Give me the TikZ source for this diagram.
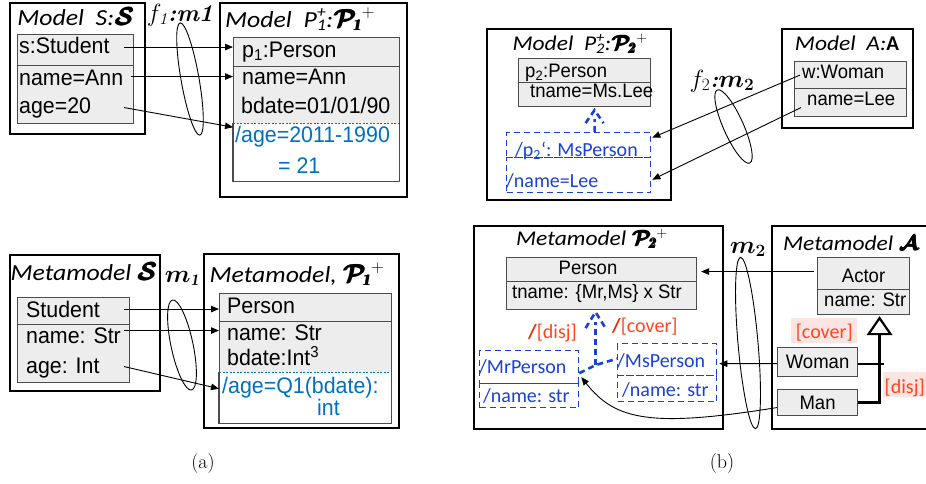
\documentclass[tikz,border=0pt]{standalone}
\usepackage{fontspec}
\usepackage{bm}
\usetikzlibrary{arrows.meta,calc,shapes.geometric}

\newfontfamily\arialf[FakeStretch=0.95]{Liberation Sans}
\newfontfamily\calibf{Carlito}
\newfontfamily\calibw[FakeStretch=1.12]{Carlito}

\newcommand\txtA{\arialf\fontsize{22.5}{26}\selectfont}
\newcommand\txtB{\arialf\fontsize{19.5}{23}\selectfont}
\newcommand\ttlA{\calibw\itshape\fontsize{23}{27}\selectfont}
\newcommand\ttlB{\calibw\itshape\fontsize{21}{25}\selectfont}
\newcommand\clbB{\calibf\fontsize{20}{24}\selectfont}
\newcommand\lblA{\fontsize{24}{28}\selectfont}
\newcommand\lblM{\fontsize{23}{27}\selectfont}
\newcommand\lblB{\fontsize{23}{27}\selectfont}
\newcommand\capf{\fontsize{20}{24}\selectfont}
% heavy version of a symbol, overprinted with small offsets
\newcommand\hvy[1]{\mbox{\rlap{#1}\rlap{\kern0.6pt\raisebox{0.6pt}{#1}}\kern1.2pt#1}}

\definecolor{blueA}{RGB}{0,112,192}
\definecolor{blueB}{RGB}{25,65,215}
\definecolor{redT}{RGB}{255,70,30}
\definecolor{redS}{RGB}{235,40,0}
\definecolor{pinkbg}{RGB}{252,228,226}

\tikzset{
  outerbox/.style={draw=black, line width=2.2pt, anchor=north west, inner sep=0pt},
  cmp/.style={draw=black!70, line width=1.1pt, fill=black!7, anchor=north west, inner sep=0pt},
  cmpw/.style={fill=white, anchor=north west, inner sep=0pt},
  cmpline/.style={draw=black!70, line width=1.1pt},
  sepdash/.style={draw=blueA, line width=0.8pt, dash pattern=on 2pt off 1.5pt},
  dbx/.style={draw=blueB, line width=1.3pt, dash pattern=on 6pt off 4pt, anchor=north west, inner sep=0pt},
  tl/.style={anchor=base west, inner sep=0pt},
  tc/.style={anchor=base, inner sep=0pt},
  map/.style={draw=black, line width=0.9pt, -{Triangle[length=8pt,width=6.5pt]}},
  ring/.style={draw=black, line width=0.9pt, ellipse, inner sep=0pt},
  gend/.style={draw=blueB, line width=2.6pt, dash pattern=on 6pt off 4pt},
  hl/.style={fill=pinkbg, text=redT, anchor=north west, inner sep=0pt, font=\clbB},
  cls/.style={cmp, font=\txtB}
}

\begin{document}
\begin{tikzpicture}[x=1pt,y=-1pt]
\useasboundingbox (0,0) rectangle (926,483);

% ===================== (a) object level =====================
\node[outerbox, minimum width=135, minimum height=131] (oS) at (9,2) {};
\node[tc, font=\ttlA] (tiS) at (76,25) {Model\ \ S:\hvy{$\bm{\mathcal{S}}$}};
\node[cmp, minimum width=116, minimum height=31] (sS1) at (17,34) {};
\node[cmp, minimum width=116, minimum height=58] (sS2) at (17,65) {};
\node[tl, font=\txtA] (tS1) at (19,53) {s:Student};
\node[tl, font=\txtA] (tS2) at (19,85) {name=Ann};
\node[tl, font=\txtA] (tS3) at (19,113) {age=20};

\node[tc, font=\lblA] (lf1) at (180,21) {$f_{\mathit{1}}$\textbf{\textit{:m1}}};
\node[ring, minimum width=18, minimum height=114, rotate=10] (r1) at (190,79) {};

\node[outerbox, minimum width=187, minimum height=194] (oP1) at (219,2) {};
\node[tc, font=\ttlA] (tiP1) at (300,27) {Model\ \ P\rlap{\textsubscript{1}}\textsuperscript{+}:\hvy{$\bm{\mathcal{P}_{\!\mathit{1}}}$}$^{+}$};
\node[cmp, minimum width=166, minimum height=29] (pP1) at (233,37) {};
\node[cmp, minimum width=166, minimum height=57] (pP2) at (233,66) {};
\node[cmpw, minimum width=166, minimum height=58] (pP3) at (233,123) {};
\draw[cmpline] (pP3.north west) |- (pP3.south east) -- (pP3.north east);
\draw[sepdash] (pP3.north west) -- (pP3.north east);
\node[tl, font=\txtA] (tP1) at (242,57) {p\textsubscript{1}:Person};
\node[tl, font=\txtA] (tP2) at (242,84) {name=Ann};
\node[tl, font=\txtA] (tP3) at (241,113) {bdate=01/01/90};
\node[tl, font=\txtA, text=blueA] (tP4) at (235,142) {/age=2011-1990};
\node[tl, font=\txtA, text=blueA] (tP5) at (278,173) {= 21};

\draw[map] ($(sS1.east)+(-10,-3)$) -- ($(pP1.west)+(0,-5)$);
\draw[map] ($(sS2.east)+(-3,-18)$) -- ($(pP2.west)+(0,-18.5)$);
\draw[map] ($(sS2.east)+(-10,13)$) -- ($(pP3.west)+(0,-25)$);

% ===================== (a) metamodel level =====================
\node[outerbox, minimum width=150, minimum height=136] (oMS) at (9,254) {};
\node[tc, font=\ttlA] (tiMS) at (84,280) {Metamodel\ \hvy{$\bm{\mathcal{S}}$}};
\node[cmp, minimum width=112, minimum height=27] (mS1) at (17,297) {};
\node[cmp, minimum width=112, minimum height=58] (mS2) at (17,324) {};
\node[tl, font=\txtA] (tmS1) at (26,317) {Student};
\node[tl, font=\txtA] (tmS2) at (26,343) {name: Str};
\node[tl, font=\txtA] (tmS3) at (26,373) {age: Int};

\node[tc, font=\lblM] (lm1) at (182,282) {$\bm{m_{\mathit{1}}}$};
\node[ring, minimum width=22, minimum height=92, rotate=12] (r2) at (182,345) {};

\node[outerbox, minimum width=195, minimum height=174] (oMP1) at (203,253) {};
\node[tc, font=\ttlA] (tiMP1) at (297,282) {Metamodel, \hvy{$\bm{\mathcal{P}_{\!\mathit{1}}}$}$^{+}$};
\node[cmp, minimum width=172, minimum height=28] (mP1) at (219,293) {};
\node[cmp, minimum width=172, minimum height=51] (mP2) at (219,321) {};
\node[cmpw, minimum width=172, minimum height=51] (mP3) at (219,372) {};
\draw[cmpline] (mP3.north west) |- (mP3.south east) -- (mP3.north east);
\draw[sepdash] (mP3.north west) -- (mP3.north east);
\node[tl, font=\txtA] (tmP1) at (227,313) {Person};
\node[tl, font=\txtA] (tmP2) at (227,340) {name: Str};
\node[tl, font=\txtA] (tmP3) at (227,365) {bdate:Int\textsuperscript{3}};
\node[tl, font=\txtA, text=blueA] (tmP4) at (222,393) {/age=Q1(bdate):};
\node[tl, font=\txtA, text=blueA] (tmP5) at (317,415) {int};

\draw[map] ($(mS1.east)+(-6,-2)$) -- ($(mP1.west)+(0,1.5)$);
\draw[map] ($(mS2.east)+(-6,-23)$) -- ($(mP2.west)+(0,-16.5)$);
\draw[map] ($(mS2.east)+(-6,13)$) -- ($(mP3.west)+(0,-9)$);

% ===================== (b) object level =====================
\node[outerbox, minimum width=184, minimum height=171] (oP2) at (486,28) {};
\node[tc, font=\ttlB] (tiP2) at (580,50) {Model\ \ P\rlap{\textsubscript{2}}\textsuperscript{+}:\hvy{$\bm{\mathcal{P}_{\!\mathit{2}}}$}$^{+}$};
\node[cmp, minimum width=132, minimum height=24] (p2a) at (518,58) {};
\node[cmp, minimum width=132, minimum height=24] (p2b) at (518,82) {};
\node[tl, font=\txtB] (tp2a) at (525,77) {p\textsubscript{2}:Person};
\node[tl, font=\txtB] (tp2b) at (530,97) {tname=Ms.Lee};
\node[dbx, minimum width=144, minimum height=25] (db1) at (506,132) {};
\node[dbx, minimum width=144, minimum height=35] (db2) at (506,157) {};
\node[tl, font=\clbB, text=blueB] (tdb1) at (515,156) {/p\textsubscript{2}‘: MsPerson};
\node[tl, font=\clbB, text=blueB] (tdb2) at (506,187) {/name=Lee};

\coordinate (gt1) at ($(p2b.south)+(10,3)$);
\draw[gend] ($(db1.north)+(16,0)$) -- ($(gt1)+(0,9)$);
\draw[gend] ($(gt1)+(-9,13)$) -- (gt1) -- ($(gt1)+(9,13)$);

\node[outerbox, minimum width=131, minimum height=99] (oA) at (781,28) {};
\node[tc, font=\ttlB] (tiA) at (847,50) {Model\ \ A:{\calibf\upshape\bfseries A}};
\node[cmp, minimum width=112, minimum height=27] (aW) at (794,61) {};
\node[cmp, minimum width=112, minimum height=28] (aN) at (794,88) {};
\node[tl, font=\txtB] (taW) at (802,78) {w:Woman};
\node[tl, font=\txtB] (taN) at (807,105) {name=Lee};

\node[tc, font=\lblB] (lf2) at (722,87) {$f_{2}$\textbf{\textit{:}}$\bm{m_{2}}$};
\node[ring, minimum width=20, minimum height=80, rotate=24] (r3) at (733.5,126.5) {};

\draw[map] ($(aW.west)+(6,0)$) -- ($(db1.east)+(1,-7.5)$);
\draw[map] ($(aN.west)+(7,5)$) -- ($(db2.east)+(1,4.5)$);

% ===================== (b) metamodel level =====================
\node[outerbox, minimum width=249, minimum height=203] (oMP2) at (473,225) {};
\node[tc, font=\ttlB] (tiMP2) at (592,245) {Metamodel\ \hvy{$\bm{\mathcal{P}_{\!\mathit{2}}}$}$^{+}$};
\node[cmp, minimum width=190, minimum height=24] (mPer1) at (506,257) {};
\node[cmp, minimum width=190, minimum height=28] (mPer2) at (506,281) {};
\node[tc, font=\txtB] (tmPer1) at (588,274) {Person};
\node[tl, font=\txtB] (tmPer2) at (512,298) {tname: \{Mr,Ms\} x Str};

\node[tl, font=\clbB, text=redT] (ldisj) at (528,338) {\textcolor{redS}{\bfseries /}[disj]};
\node[tl, font=\clbB, text=redT] (lcov) at (612,332) {\textcolor{redS}{\bfseries /}[cover]};

\node[dbx, minimum width=99, minimum height=33] (mr1) at (479,350) {};
\node[dbx, minimum width=99, minimum height=24] (mr2) at (479,383) {};
\node[tl, font=\clbB, text=blueB] (tmr1) at (479,373) {/MrPerson};
\node[tl, font=\clbB, text=blueB] (tmr2) at (483,402) {/name: str};
\node[dbx, minimum width=99, minimum height=32] (ms1) at (617,343) {};
\node[dbx, minimum width=99, minimum height=26] (ms2) at (617,375) {};
\node[tl, font=\clbB, text=blueB] (tms1) at (617,367) {/MsPerson};
\node[tl, font=\clbB, text=blueB] (tms2) at (622,396) {/name: str};

\coordinate (gj) at ($(mPer2.south)+(-6,55)$);
\coordinate (gt2) at ($(mPer2.south)+(-6,2)$);
\draw[gend] ($(mr1.east)+(0,6)$) -- (gj) -- ($(ms1.west)+(0,-1)$);
\draw[gend] (gj) -- ($(gt2)+(0,10)$);
\draw[gend] ($(gt2)+(-10,16)$) -- (gt2) -- ($(gt2)+(10,16)$);

\node[outerbox, minimum width=170, minimum height=203] (oMA) at (771,225) {};
\node[tc, font=\ttlB] (tiMA) at (851,250) {Metamodel\ \hvy{$\bm{\mathcal{A}}$}};
\node[cls, minimum width=92, minimum height=32, text height=25pt, text depth=7pt] (act1) at (817,257) {Actor};
\node[cmp, minimum width=92, minimum height=25] (act2) at (817,289) {};
\node[tl, font=\txtB] (tact2) at (824,306) {name: Str};
\node[hl, minimum width=66, minimum height=25, text height=20pt, text depth=5pt] (cov) at (791,318) {[cover]};
\node[cls, minimum width=80, minimum height=29, text height=21pt, text depth=8pt] (wom) at (777,347) {Woman};
\node[cls, minimum width=80, minimum height=26, text height=20pt, text depth=6pt] (man) at (777,389) {Man};
\node[hl, minimum width=43, minimum height=25, text height=21pt, text depth=4pt] (dsj) at (883,372) {[disj]};

\coordinate (gA) at ($(act2.south)+(16,3)$);
\draw[line width=2.8pt] ($(gA)+(0,16)$) |- (man.east);
\draw[line width=2pt] ($(wom.east)+(0,1.5)$) -- ++(26,0);
\draw[line width=2.2pt, fill=white] (gA) -- ++(-11,16) -- ++(22,0) -- cycle;

\node[tc, font=\lblM] (lm2) at (748,253) {$\bm{m_{2}}$};
\node[ring, minimum width=20, minimum height=172, rotate=5] (r4) at (748,343) {};

\draw[map] ($(act1.west)+(-3,-2)$) -- ($(mPer1.east)+(4,2)$);
\draw[map] ($(wom.west)+(0,1.5)$) -- ($(ms1.east)+(2,4)$);
\draw[map] ($(man.west)+(0,5)$) .. controls (650,428) and (615,420) .. ($(mr1.east)+(2,10)$);

% ===================== captions =====================
\node[tc, font=\capf] (capa) at (203,468) {(a)};
\node[tc, font=\capf] (capb) at (722,468) {(b)};
\end{tikzpicture}
\end{document}
